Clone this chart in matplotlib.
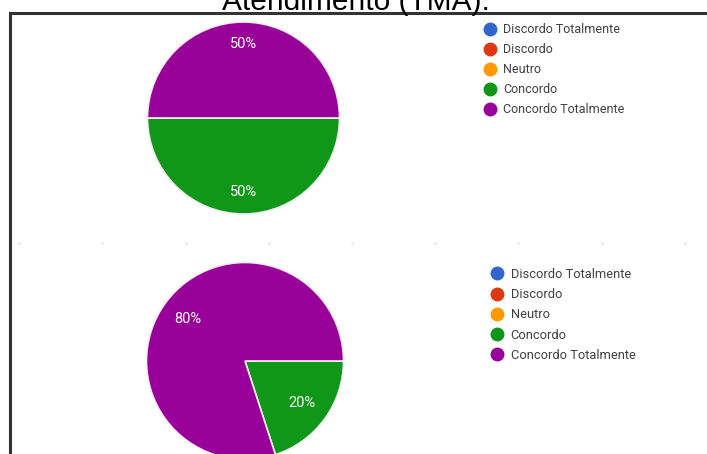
import matplotlib
matplotlib.use("Agg")
import matplotlib.pyplot as plt
from matplotlib.lines import Line2D

W, H = 707, 454

categories = ["Discordo Totalmente", "Discordo", "Neutro", "Concordo", "Concordo Totalmente"]
colors = ["#3366cc", "#dc3912", "#ff9900", "#109618", "#990099"]

# shares per question (only the two non-zero answers are drawn as wedges)
pie_top = [50, 50]      # Concordo, Concordo Totalmente
pie_bottom = [20, 80]
pie_colors = ["#109618", "#990099"]

title = "Atendimento (TMA)."

fig = plt.figure(figsize=(W / 100, H / 100), dpi=100)
plt.rcParams['font.family'] = ['Roboto', 'DejaVu Sans']


def px_axes(cx, cy, r):
    return fig.add_axes([(cx - r) / W, 1 - (cy + r) / H, 2 * r / W, 2 * r / H])


def draw_pie(ax, values, pctdist):
    ax.pie(values, colors=pie_colors, startangle=0, counterclock=False,
           autopct="%d%%", pctdistance=pctdist,
           wedgeprops=dict(edgecolor="#f4eef4", linewidth=1.2),
           textprops=dict(color="white", fontsize=10.5))
    ax.set_xlim(-1, 1)
    ax.set_ylim(-1, 1)
    ax.set_aspect("equal")
    ax.axis("off")


ax1 = px_axes(243.5, 118, 96)
draw_pie(ax1, pie_top, 0.77)

ax2 = px_axes(245, 361, 98.5)
draw_pie(ax2, pie_bottom, 0.72)


def add_legend(x, y, fs):
    handles = [Line2D([], [], marker="o", linestyle="none", markersize=9,
                      markerfacecolor=c, markeredgecolor=c) for c in colors]
    leg = fig.legend(handles, categories, loc="upper left",
                     bbox_to_anchor=(x / W, 1 - y / H), frameon=False,
                     fontsize=fs, labelspacing=0.56, handlelength=0.9,
                     handletextpad=0.62, borderpad=0, borderaxespad=0)
    for t in leg.get_texts():
        t.set_color("#404040")


add_legend(484, 23, 9.0)
add_legend(491, 268, 9.3)

# faint dotted separator between the two charts
sep = fig.add_axes([0, 0, 1, 1], facecolor="none")
sep.set_xlim(0, W)
sep.set_ylim(H, 0)
sep.axis("off")
sep.plot([19, 102, 186, 269, 352, 435, 518, 602, 685], [243] * 9, linestyle="none",
         marker="o", markersize=1.2, color="#ebebeb")

# frame of the screenshot
sep.plot([10, 10, W + 5], [H + 5, 13, 13], color="#333333", linewidth=2.2,
         solid_joinstyle="miter")

fig.text(356 / W, 1 - 10 / H, title, ha="center", va="baseline",
         fontsize=21.5, family=["Liberation Sans", "DejaVu Sans"])

fig.savefig("out.png", dpi=100)
